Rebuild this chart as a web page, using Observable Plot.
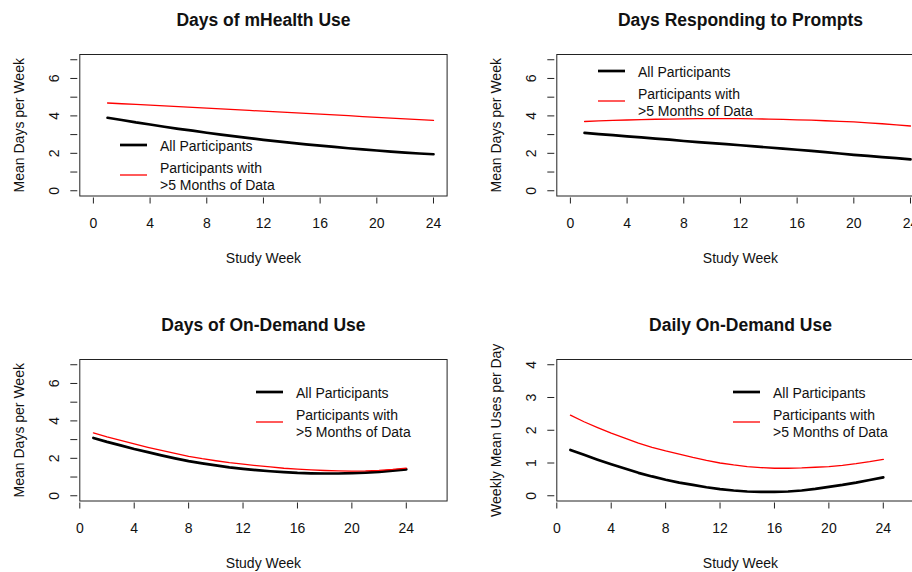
<!DOCTYPE html>
<html><head><meta charset="utf-8">
<script src="https://cdn.jsdelivr.net/npm/d3@7"></script>
<script src="https://cdn.jsdelivr.net/npm/@observablehq/plot@0.6"></script>
<style>
body{margin:0;background:#fff;}
#wrap{position:relative;width:912px;height:572px;overflow:hidden;background:#fff;font-family:"Liberation Sans",Arial,sans-serif;color:#111;}
.cell{position:absolute;width:477px;height:305px;}
.cell svg{overflow:visible;}
</style></head><body><div id="wrap"></div>
<script>
// ---- data ----
const weeks = [1,2,3,4,5,6,7,8,9,10,11,12,13,14,15,16,17,18,19,20,21,22,23,24];
const titles = ["Days of mHealth Use","Days Responding to Prompts","Days of On-Demand Use","Daily On-Demand Use"];
const yAxisLabels = ["Mean Days per Week","Mean Days per Week","Mean Days per Week","Weekly Mean Uses per Day"];
const xAxisLabel = "Study Week";
const seriesNames = ["All Participants", "Participants with\n>5 Months of Data"];

const mhealthAll  = [3.90,3.78,3.65,3.54,3.42,3.31,3.21,3.10,3.00,2.91,2.81,2.72,2.64,2.56,2.48,2.41,2.34,2.27,2.21,2.15,2.09,2.04,1.99,1.95];
const mhealthLong = [4.69,4.65,4.61,4.57,4.53,4.49,4.45,4.41,4.37,4.33,4.29,4.25,4.21,4.17,4.13,4.09,4.05,4.01,3.96,3.92,3.88,3.84,3.80,3.76];
const promptsAll  = [3.09,3.03,2.97,2.91,2.85,2.79,2.73,2.66,2.60,2.54,2.49,2.43,2.37,2.31,2.25,2.19,2.13,2.06,1.99,1.92,1.86,1.80,1.74,1.68];
const promptsLong = [3.70,3.73,3.76,3.78,3.80,3.82,3.83,3.84,3.85,3.85,3.85,3.85,3.84,3.83,3.81,3.79,3.77,3.74,3.71,3.68,3.63,3.58,3.52,3.46];
const onDemandAll  = [3.09,2.88,2.69,2.50,2.33,2.16,2.00,1.85,1.73,1.62,1.52,1.44,1.37,1.31,1.26,1.22,1.20,1.19,1.19,1.21,1.24,1.28,1.34,1.41];
const onDemandLong = [3.36,3.15,2.96,2.77,2.59,2.42,2.26,2.11,1.98,1.87,1.77,1.69,1.61,1.54,1.47,1.42,1.38,1.35,1.33,1.32,1.33,1.36,1.41,1.48];
const dailyAll  = [1.40,1.25,1.10,0.96,0.83,0.70,0.59,0.49,0.40,0.33,0.26,0.20,0.16,0.13,0.12,0.12,0.13,0.16,0.21,0.27,0.33,0.40,0.48,0.56];
const dailyLong = [2.46,2.26,2.08,1.91,1.76,1.61,1.48,1.37,1.27,1.17,1.08,1.00,0.94,0.89,0.86,0.84,0.84,0.85,0.87,0.89,0.93,0.98,1.04,1.11];

const xTicks = [0,4,8,12,16,20,24];
const yTicks7 = [0,1,2,3,4,5,6,7];
const yTickLabels7 = [0,2,4,6];
const yTicks4 = [0,1,2,3,4];
const yTickLabels4 = [0,1,2,3,4];

// ---- layout ----
const FONT = '"Liberation Sans", Arial, sans-serif';
const CW = 477, CH = 304.5;
const ML = 79.3, MR = 30.4, MT = 54, MB = 109.5;
const wrap = document.getElementById("wrap");

function panel(i, all, long, xDomain, yDomain, yTicks, yTickLabels, legendDx, legendY) {
  const col = i % 2, row = Math.floor(i / 2);
  const cell = document.createElement("div");
  cell.className = "cell";
  cell.style.left = (col * CW) + "px";
  cell.style.top = (row * CH) + "px";
  wrap.appendChild(cell);

  const rowsAll = weeks.map((w, k) => ({week: w, value: all[k], series: seriesNames[0]}));
  const rowsLong = weeks.map((w, k) => ({week: w, value: long[k], series: seriesNames[1]}));

  const plot = Plot.plot({
    width: CW, height: 305,
    marginLeft: ML, marginRight: MR, marginTop: MT, marginBottom: MB,
    style: {fontFamily: FONT, fontSize: "14px", color: "#111", background: "transparent", overflow: "visible"},
    x: {domain: xDomain},
    y: {domain: yDomain},
    marks: [
      Plot.frame({stroke: "#222", strokeWidth: 1}),
      Plot.axisX(xTicks, {tickSize: 6, dy: 2, tickFormat: () => "", label: null, stroke: "#222"}),
      Plot.axisY(yTicks, {tickSize: 7, dx: -2, tickFormat: () => "", label: null, stroke: "#222"}),
      Plot.text(xTicks, {x: d => d, frameAnchor: "bottom", dy: 27.5, lineAnchor: "middle", textAnchor: "middle", fontSize: 14}),
      Plot.text(yTickLabels, {y: d => d, frameAnchor: "left", dx: -25, rotate: -90, lineAnchor: "middle", textAnchor: "middle", fontSize: 14}),
      Plot.text([titles[i]], {frameAnchor: "top", dy: -34, lineAnchor: "middle", textAnchor: "middle", fontWeight: "bold", fontSize: 17.5}),
      Plot.text([xAxisLabel], {frameAnchor: "bottom", dy: 62.5, lineAnchor: "middle", textAnchor: "middle", fontSize: 14}),
      Plot.text([yAxisLabels[i]], {frameAnchor: "left", dx: -60, rotate: -90, lineAnchor: "middle", textAnchor: "middle", fontSize: 14}),
      Plot.line(rowsAll, {x: "week", y: "value", stroke: "#000", strokeWidth: 2.7}),
      Plot.line(rowsLong, {x: "week", y: "value", stroke: "#ff0000", strokeWidth: 1.3})
    ]
  });
  cell.appendChild(plot);

  // legend (R-style, inside the plot box)
  const lg = d3.select(cell).append("svg")
    .attr("width", 200).attr("height", 70)
    .style("position", "absolute")
    .style("left", (ML + legendDx) + "px")
    .style("top", (legendY - 10) + "px")
    .style("overflow", "visible")
    .style("font-family", FONT).style("font-size", "14px");
  const g = lg.append("g").attr("transform", "translate(0,10)");
  g.append("line").attr("x1", 0).attr("x2", 27).attr("y1", 0).attr("y2", 0).attr("stroke", "#000").attr("stroke-width", 2.7);
  g.append("line").attr("x1", 0).attr("x2", 27).attr("y1", 30).attr("y2", 30).attr("stroke", "#ff0000").attr("stroke-width", 1.3);
  g.append("text").attr("x", 40).attr("y", 1).attr("dominant-baseline", "central").attr("fill", "#111").text(seriesNames[0]);
  seriesNames[1].split("\n").forEach((t, j) => {
    g.append("text").attr("x", 40).attr("y", 22.5 + j * 17).attr("dominant-baseline", "central").attr("fill", "#111").text(t);
  });
}

panel(0, mhealthAll, mhealthLong, [-0.96, 24.96], [-0.28, 7.28], yTicks7, yTickLabels7, 41, 145);
panel(1, promptsAll, promptsLong, [-0.96, 24.96], [-0.28, 7.28], yTicks7, yTickLabels7, 41.4, 70.7);
panel(2, onDemandAll, onDemandLong, [0, 27], [-0.28, 7.28], yTicks7, yTickLabels7, 176.5, 87.8);
panel(3, dailyAll, dailyLong, [0, 27], [-0.16, 4.16], yTicks4, yTickLabels4, 176.5, 87.8);
</script>
</body></html>
